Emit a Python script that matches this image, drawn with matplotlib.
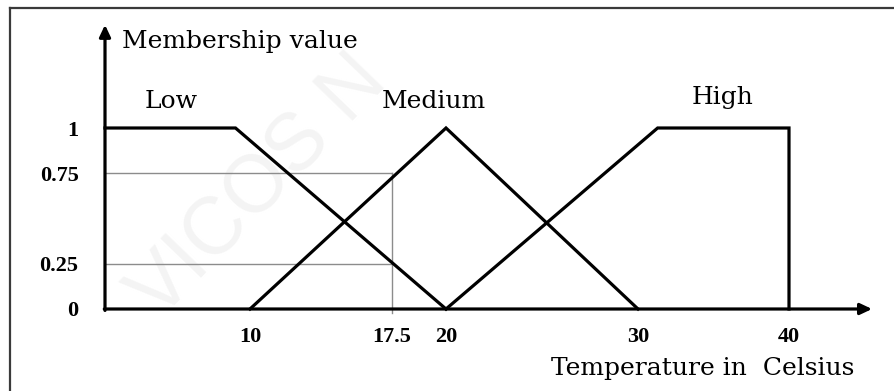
import numpy as np
import matplotlib.pyplot as plt
from matplotlib.lines import Line2D

# dane: funkcje przynaleznosci (temperatura -> stopien przynaleznosci)
low_x = [0, 9, 20]
low_y = [1, 1, 0]
medium_x = [10, 20, 30]
medium_y = [0, 1, 0]
high_x = [20, 31.3, 40, 40]
high_y = [0, 1, 1, 0]

x_ticks = [10, 17.5, 20, 30, 40]
x_tick_labels = ['10', '17.5', '20', '30', '40']
y_ticks = [0, 0.25, 0.75, 1]
y_tick_labels = ['0', '0.25', '0.75', '1']

punkt_x = 17.5
punkt_y = [0.25, 0.75]

# rysunek nie jest w skali liniowej - odtwarzamy os piecewise
kotwice_wart = [0, 10, 17.5, 20, 30, 40]
kotwice_px = [105, 250, 392, 446, 638, 789]


def do_px(v):
    v = np.asarray(v, dtype=float)
    out = np.interp(v, kotwice_wart, kotwice_px)
    lewa = (kotwice_px[1] - kotwice_px[0]) / (kotwice_wart[1] - kotwice_wart[0])
    prawa = (kotwice_px[-1] - kotwice_px[-2]) / (kotwice_wart[-1] - kotwice_wart[-2])
    out = np.where(v < kotwice_wart[0], kotwice_px[0] + (v - kotwice_wart[0]) * lewa, out)
    out = np.where(v > kotwice_wart[-1], kotwice_px[-1] + (v - kotwice_wart[-1]) * prawa, out)
    return out


def z_px(p):
    p = np.asarray(p, dtype=float)
    out = np.interp(p, kotwice_px, kotwice_wart)
    lewa = (kotwice_wart[1] - kotwice_wart[0]) / (kotwice_px[1] - kotwice_px[0])
    prawa = (kotwice_wart[-1] - kotwice_wart[-2]) / (kotwice_px[-1] - kotwice_px[-2])
    out = np.where(p < kotwice_px[0], kotwice_wart[0] + (p - kotwice_px[0]) * lewa, out)
    out = np.where(p > kotwice_px[-1], kotwice_wart[-1] + (p - kotwice_px[-1]) * prawa, out)
    return out


fig = plt.figure(figsize=(8.95, 3.91), dpi=100)
ax = fig.add_axes([0, 0, 1, 1])
ax.set_xscale('function', functions=(do_px, z_px))
ax.set_xlim(float(z_px(0)), float(z_px(895)))
ax.set_ylim(-82 / 181, (391 - 82) / 181)
ax.patch.set_alpha(0)

# znak wodny (pod osiami)
fig.text(0.29, 0.52, 'VICOS N', fontsize=58, family='Liberation Sans', color='#f4f4f4',
         rotation=46, ha='center', va='center', zorder=-1)

# ramka (gora i lewa)
fig.add_artist(Line2D([10 / 895, 1], [1 - 8 / 391, 1 - 8 / 391], color='#3a3a3a', lw=1.6))
fig.add_artist(Line2D([10 / 895, 10 / 895], [0, 1 - 8 / 391], color='#3a3a3a', lw=1.6))

szary = '#8c8c8c'
for py in punkt_y:
    ax.plot([0, punkt_x], [py, py], color=szary, lw=1.0, zorder=2)
ax.plot([punkt_x, punkt_x], [-0.02, max(punkt_y)], color=szary, lw=1.0, zorder=2)

for xs, ys in [(low_x, low_y), (medium_x, medium_y), (high_x, high_y)]:
    ax.plot(xs, ys, color='black', lw=2.3, solid_joinstyle='miter', zorder=3)

# osie ze strzalkami
strzalka = dict(arrowstyle='-|>,head_length=0.7,head_width=0.33', lw=2.3,
                color='black', shrinkA=0, shrinkB=0)
ax.annotate('', xy=(45.5, 0), xytext=(-0.05, 0), arrowprops=strzalka, zorder=4)
ax.annotate('', xy=(0, 1.57), xytext=(0, -0.008), arrowprops=strzalka, zorder=4)

for s in ax.spines.values():
    s.set_visible(False)

ax.spines['bottom'].set_position(('data', 0))
ax.spines['left'].set_position(('data', 0))
ax.set_xticks(x_ticks)
ax.set_xticklabels(x_tick_labels)
ax.set_yticks(y_ticks)
ax.set_yticklabels(y_tick_labels)
ax.tick_params(length=0)
ax.tick_params(axis='x', pad=13)
ax.tick_params(axis='y', pad=19)
for lab in ax.get_xticklabels() + ax.get_yticklabels():
    lab.set_fontfamily('Liberation Serif')
    lab.set_fontweight('bold')
    lab.set_fontsize(16)

serif = 'DejaVu Serif'
ax.text(1.17, 1.442, 'Membership value', family=serif, fontsize=18, ha='left', va='baseline')
ax.text(4.55, 1.110, 'Low', family=serif, fontsize=18, ha='center', va='baseline')
ax.text(19.44, 1.110, 'Medium', family=serif, fontsize=18, ha='center', va='baseline')
ax.text(35.6, 1.133, 'High', family=serif, fontsize=18, ha='center', va='baseline')
ax.text(34.3, -0.365, 'Temperature in  Celsius', family=serif, fontsize=18,
        ha='center', va='baseline')

fig.savefig('out.png', dpi=100)
